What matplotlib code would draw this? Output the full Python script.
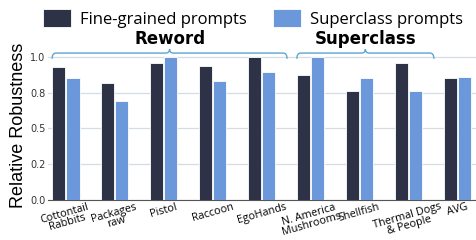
import matplotlib
matplotlib.use("Agg")
import matplotlib.pyplot as plt
import numpy as np
from matplotlib.path import Path
from matplotlib.patches import PathPatch

# data
datasets = ["Cottontail\nRabbits", "Packages\nraw", "Pistol", "Raccoon", "EgoHands",
            "N. America\nMushrooms", "Shellfish", "Thermal Dogs\n& People", "AVG"]
fine_grained = [0.93, 0.82, 0.955, 0.94, 1.0, 0.875, 0.76, 0.955, 0.85]
superclass = [0.85, 0.69, 1.0, 0.83, 0.895, 1.0, 0.85, 0.76, 0.86]
groups = [("Reword", 0, 4), ("Superclass", 5, 7)]

dark = "#2e3247"
light = "#6b97db"
brace_col = "#5aa6d0"

fig = plt.figure(figsize=(4.77, 2.4), dpi=100)
ax = fig.add_axes([0.101, 0.167, 0.899, 0.625])

x = np.arange(len(datasets))
w = 0.27
ax.bar(x - w/2 - 0.01, fine_grained, w, color=dark, edgecolor="white", linewidth=0.6,
       label="Fine-grained prompts", zorder=3)
ax.bar(x + w/2 + 0.01, superclass, w, color=light, edgecolor="white", linewidth=0.6,
       label="Superclass prompts", zorder=3)

ax.set_xlim(-0.36, 8.4)
ax.set_ylim(0, 1.05)
ax.set_yticks([0, 0.25, 0.5, 0.75, 1.0])
ax.set_yticklabels(["%.1f" % v for v in [0, 0.25, 0.5, 0.75, 1.0]], fontsize=7, color="#333333")
ax.tick_params(axis="y", length=0, pad=2)
ax.tick_params(axis="x", length=0, pad=1)
ax.set_xticks(x)
ax.set_xticklabels(datasets, rotation=16, ha="center", fontsize=7.8,
                   family="Open Sans", linespacing=0.85)
ax.grid(axis="y", color="#d5dde3", linewidth=0.9, zorder=0)
for s in ["top", "right", "left"]:
    ax.spines[s].set_visible(False)
ax.spines["bottom"].set_color("#555555")
ax.spines["bottom"].set_linewidth(0.8)
ax.set_ylabel("Relative Robustness", fontsize=13, family="Liberation Sans", labelpad=2)


def brace(ax, x0, x1, y, h=0.04, tip=0.028):
    xm = (x0 + x1) / 2
    r = 0.08
    verts = [(x0, y - h), (x0, y), (x0 + r, y),
             (xm - r, y), (xm, y), (xm, y + tip),
             (xm, y), (xm + r, y),
             (x1 - r, y), (x1, y), (x1, y - h)]
    codes = [Path.MOVETO, Path.CURVE3, Path.CURVE3,
             Path.LINETO, Path.CURVE3, Path.CURVE3,
             Path.CURVE3, Path.CURVE3,
             Path.LINETO, Path.CURVE3, Path.CURVE3]
    ax.add_patch(PathPatch(Path(verts, codes), fill=False, edgecolor=brace_col,
                           linewidth=1.0, clip_on=False, zorder=4))


for name, i0, i1 in groups:
    brace(ax, i0 - 0.28, i1 + 0.52, 1.028)
    ax.text((i0 - 0.28 + i1 + 0.52) / 2, 1.065, name, ha="center", va="bottom",
            fontsize=12, fontweight="bold", clip_on=False)

fig.legend(loc="upper center", bbox_to_anchor=(0.53, 1.025), ncol=2, frameon=False,
           handlelength=1.7, handleheight=1.3, columnspacing=1.6,
           handletextpad=0.5, prop={"family": "Open Sans", "size": 12})

fig.savefig("out.png", dpi=100)
